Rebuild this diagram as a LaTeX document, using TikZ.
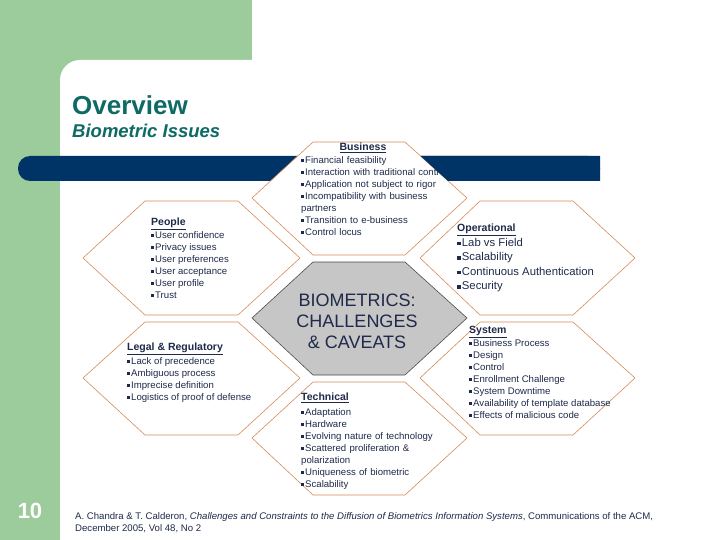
\documentclass[tikz,border=0pt]{standalone}
\usepackage{fontspec}
\setmainfont{Liberation Sans}
\definecolor{grn}{HTML}{9CCB9C}
\definecolor{navy}{HTML}{003366}
\definecolor{teal}{HTML}{0E6A64}
\definecolor{txt}{HTML}{1F2A4A}
\definecolor{hexo}{HTML}{D98A5A}
\newcommand{\bu}{\raisebox{0.2ex}{\rule{0.3em}{0.3em}}\hspace{0.12em}}
\newcommand{\hd}[1]{\underline{\textbf{#1}}}
\tikzset{
  hexa/.style={draw=hexo, fill=white, line width=0.6pt},
  body/.style={anchor=north west, align=left, inner sep=0pt, text=txt, font=\fontsize{9.6}{12}\selectfont},
  head/.style={anchor=north west, align=left, inner sep=0pt, text=txt, font=\fontsize{10.5}{12}\selectfont},
  big/.style={anchor=north west, align=left, inner sep=0pt, text=txt, font=\fontsize{11.3}{14.5}\selectfont},
}
\begin{document}
\begin{tikzpicture}[x=1pt,y=-1pt]
\useasboundingbox (0,0) rectangle (720,540);
\fill[white] (0,0) rectangle (720,540);
\fill[grn] (0,0) rectangle (252,90);
\fill[grn] (0,0) rectangle (60,540);
\fill[white, rounded corners=20pt] (60,60) rectangle (760,580);
\node[anchor=west, inner sep=0pt, text=teal, font=\fontsize{26}{30}\selectfont\bfseries] (title) at (72,105) {Overview};
\node[anchor=west, inner sep=0pt, text=teal, font=\fontsize{18.5}{22}\selectfont\bfseries\itshape] (sub) at (72,131) {Biometric Issues};
\fill[navy, rounded corners=12pt] (18,156) rectangle (600,181);
% hexagons
\draw[hexa] (252,198)--(313,142)--(405,142)--(467,198)--(405,255)--(313,255)--cycle;
\draw[hexa] (252,438)--(313,382)--(405,382)--(467,438)--(405,495)--(313,495)--cycle;
\draw[hexa] (83,258)--(145,201)--(238,201)--(300,258)--(238,315)--(145,315)--cycle;
\draw[hexa] (83,378)--(145,322)--(238,322)--(300,378)--(238,435)--(145,435)--cycle;
\draw[hexa] (420,258)--(480,201)--(573,201)--(635,258)--(573,315)--(480,315)--cycle;
\draw[hexa] (420,378)--(480,322)--(573,322)--(635,378)--(573,435)--(480,435)--cycle;
\draw[fill=gray!45, draw=gray!60!black, line width=0.6pt] (252,318)--(313,262)--(405,262)--(467,318)--(405,375)--(313,375)--cycle;
% texts
\node[head, anchor=north] (bh) at (363,143) {\hd{Business}};
\node[body, text width=165pt] (bt) at (301,156) {\bu Financial feasibility\\ \bu Interaction with traditional contr\\ \bu Application not subject to rigor\\ \bu Incompatibility with business\\ partners\\ \bu Transition to e-business\\ \bu Control locus};
\fill[navy] (420.5,156) -- (600,156) -- (600,181) -- (448,181) -- cycle;
\node[head] (ph) at (151,218) {\hd{People}};
\node[body] (pt) at (151,231) {\bu User confidence\\ \bu Privacy issues\\ \bu User preferences\\ \bu User acceptance\\ \bu User profile\\ \bu Trust};
\node[head] (lh) at (127,343) {\hd{Legal \& Regulatory}};
\node[body] (lt) at (127,357) {\bu Lack of precedence\\ \bu Ambiguous process\\ \bu Imprecise definition\\ \bu Logistics of proof of defense};
\node[head] (th) at (301,393) {\hd{Technical}};
\node[body, text width=145pt] (tt) at (301,408) {\bu Adaptation\\ \bu Hardware\\ \bu Evolving nature of technology\\ \bu Scattered proliferation \&\\ polarization\\ \bu Uniqueness of biometric\\ \bu Scalability};
\node[head] (oh) at (457,224) {\hd{Operational}};
\node[big] (ot) at (457,238) {\bu Lab vs Field\\ \bu Scalability\\ \bu Continuous Authentication\\ \bu Security};
\node[head] (sh) at (469,326) {\hd{System}};
\node[body] (st) at (469,339) {\bu Business Process\\ \bu Design\\ \bu Control\\ \bu Enrollment Challenge\\ \bu System Downtime\\ \bu Availability of template database\\ \bu Effects of malicious code};
\node[align=center, inner sep=0pt, text=txt, font=\fontsize{18}{21}\selectfont] (core) at (357,321) {BIOMETRICS:\\CHALLENGES\\\& CAVEATS};
\node[inner sep=0pt, text=white, font=\fontsize{22}{26}\selectfont\bfseries] (num) at (30,511) {10};
\node[anchor=north west, align=left, inner sep=0pt, text=txt, font=\fontsize{9.6}{12.5}\selectfont] (cite) at (75,512) {A. Chandra \& T. Calderon, \textit{Challenges and Constraints to the Diffusion of Biometrics Information Systems}, Communications of the ACM,\\ December 2005, Vol 48, No 2};
\end{tikzpicture}
\end{document}
